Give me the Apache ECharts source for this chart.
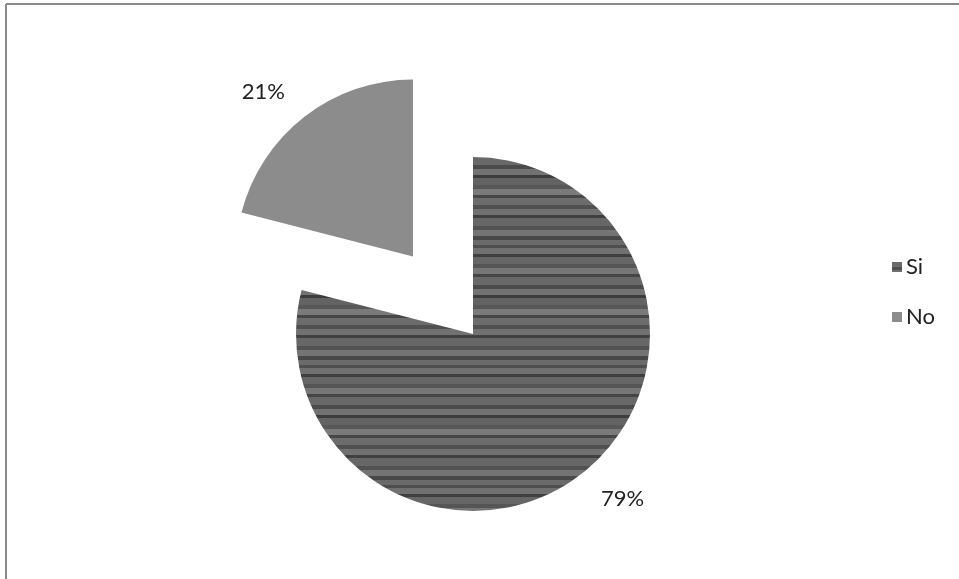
<!DOCTYPE html>
<html>
<head>
<meta charset="utf-8">
<script src="https://cdn.jsdelivr.net/npm/echarts@6/dist/echarts.min.js"></script>
<style>
html,body{margin:0;padding:0;background:#fff;}
#chart{width:959px;height:579px;}
</style>
</head>
<body>
<div id="chart"></div>
<script>
const categories = ['Si', 'No'];
const values = [79, 21];
const labels = ['79%', '21%'];

// deterministic wood-like horizontal streak texture
function makeTexture() {
  const c = document.createElement('canvas');
  c.width = 64; c.height = 120;
  const ctx = c.getContext('2d');
  const bands = [
    [0,5,'#6a6a6a'],[5,3,'#4e4e4e'],[8,6,'#707070'],[14,3,'#3f3f3f'],[17,7,'#666'],
    [24,4,'#555'],[28,6,'#767676'],[34,3,'#454545'],[37,8,'#686868'],[45,4,'#4a4a4a'],
    [49,6,'#727272'],[55,3,'#3c3c3c'],[58,7,'#636363'],[65,4,'#585858'],[69,6,'#7a7a7a'],
    [75,3,'#474747'],[78,7,'#6c6c6c'],[85,4,'#505050'],[89,6,'#717171'],[95,3,'#404040'],
    [98,8,'#676767'],[106,4,'#525252'],[110,6,'#747474'],[116,4,'#484848']
  ];
  bands.forEach(b => { ctx.fillStyle = b[2]; ctx.fillRect(0, b[0], 64, b[1]); });
  return c;
}
const tex = makeTexture();

const chart = echarts.init(document.getElementById('chart'));
chart.setOption({
  animation: false,
  backgroundColor: '#ffffff',
  graphic: [
    { type: 'line', shape: { x1: 6, y1: 4, x2: 959, y2: 4 }, style: { stroke: '#8a8a8a', lineWidth: 2 } },
    { type: 'line', shape: { x1: 6, y1: 4, x2: 6, y2: 579 }, style: { stroke: '#8a8a8a', lineWidth: 2 } }
  ],
  legend: {
    orient: 'vertical',
    left: 887,
    top: 250,
    itemWidth: 10,
    itemHeight: 10,
    itemGap: 26,
    icon: 'rect',
    data: categories,
    textStyle: { fontFamily: 'Lato', fontSize: 22, color: '#222', lineHeight: 24, padding: [0,0,0,-1] }
  },
  series: [{
    type: 'pie',
    center: [473, 334],
    radius: [0, 177],
    startAngle: 90,
    clockwise: true,
    selectedMode: 'single',
    selectedOffset: 98,
    avoidLabelOverlap: false,
    label: {
      show: true,
      position: 'outside',
      fontFamily: 'Lato',
      fontSize: 22,
      color: '#222',
      distanceToLabelLine: 0,
      formatter: p => labels[p.dataIndex]
    },
    labelLine: { show: false, length: 32, length2: 0 },
    emphasis: { disabled: true },
    data: categories.map((c, i) => ({
      name: c,
      value: values[i],
      selected: i === 1,
      itemStyle: i === 0 ? { color: { image: tex, repeat: 'repeat' } } : { color: '#8c8c8c' }
    }))
  }]
});
</script>
</body>
</html>
